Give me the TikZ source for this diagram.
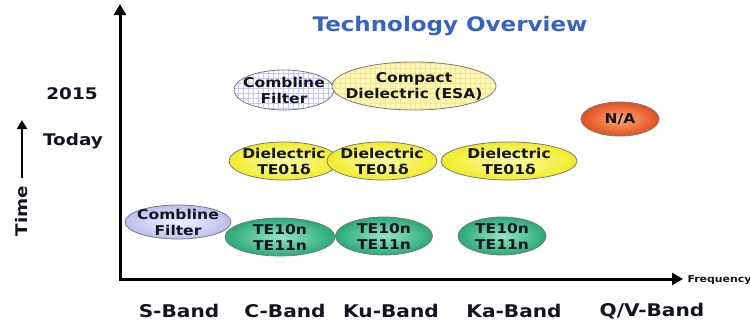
\documentclass[tikz,border=0pt]{standalone}
\usepackage{fontspec}
\setmainfont{DejaVu Sans}[FakeStretch=1.15]
\usetikzlibrary{shapes.geometric,arrows.meta}
\definecolor{txt}{HTML}{141420}
\definecolor{ttl}{HTML}{3563C4}
\definecolor{edge}{HTML}{7A7A7A}
\tikzset{
  oval/.style={ellipse, draw=edge, line width=0.8pt, inner xsep=-16pt, inner ysep=-6pt, align=center,
    font=\fontsize{13.5}{16}\selectfont\bfseries, text=txt},
  grid/.style={oval, fill=white, path picture={\draw[#1, line width=0.4pt, step=5pt]
    ([xshift=-1pt,yshift=-1pt]path picture bounding box.south west) grid (path picture bounding box.north east);}},
  diel/.style={oval, inner color={rgb,255:red,252;green,252;blue,170}, outer color={rgb,255:red,240;green,236;blue,40}},
  tem/.style={oval, inner color={rgb,255:red,150;green,228;blue,195}, outer color={rgb,255:red,40;green,170;blue,120}},
  band/.style={font=\fontsize{17.5}{19}\selectfont\bfseries, text=txt},
  side/.style={font=\fontsize{16}{17}\selectfont\bfseries, text=txt},
  axis/.style={line width=3pt, -{Triangle[length=11pt,width=12pt]}},
}
\begin{document}
\begin{tikzpicture}[x=1pt,y=-1pt]
\useasboundingbox (0,0) rectangle (750,325);
% title
\node[font=\fontsize{20}{22}\selectfont\bfseries, text=ttl] (title) at (450,26) {Technology Overview};
% axes
\coordinate (origin) at (120,279);
\coordinate (ytop) at (120,4);
\coordinate (xend) at (683,279);
\draw[axis] (origin) -- (ytop);
\draw[axis] ([xshift=-1.5pt]origin) -- (xend);
\node[anchor=west, font=\fontsize{9.5}{10}\selectfont\bfseries, text=txt] (freq) at (684,280) {Frequency};
% time axis labels
\node[side] (y2015) at (72,94) {2015};
\node[side] (today) at (73,141) {Today};
\node[side, rotate=90] (time) at (22,211) {Time};
\coordinate (tarrowtip) at (22,120);
\draw[line width=2.8pt, -{Triangle[length=9pt,width=10pt]}] (time.east) ++(0,-4) -- (tarrowtip);
% ovals
\node[grid=blue!22, minimum width=100pt, minimum height=40pt] (comb2) at (284,90) {Combline\\Filter};
\node[grid=yellow!60!orange!45, oval, fill={rgb,255:red,250;green,250;blue,190}, minimum width=164pt, minimum height=48pt] (compact) at (414,86) {Compact\\Dielectric (ESA)};
\node[oval, inner color={rgb,255:red,250;green,170;blue,120}, outer color={rgb,255:red,225;green,80;blue,30}, minimum width=78pt, minimum height=34pt] (na) at (620,119) {N/A};
\node[diel, minimum width=110pt, minimum height=38pt] (d1) at (284,161) {Dielectric\\TE01δ};
\node[diel, minimum width=110pt, minimum height=38pt] (d2) at (382,161) {Dielectric\\TE01δ};
\node[diel, minimum width=136pt, minimum height=38pt] (d3) at (509,161) {Dielectric\\TE01δ};
\node[oval, inner color={rgb,255:red,240;green,240;blue,255}, outer color={rgb,255:red,190;green,190;blue,238}, minimum width=106pt, minimum height=34pt] (comb1) at (178,222) {Combline\\Filter};
\node[tem, minimum width=110pt, minimum height=38pt] (t1) at (280,237) {TE10n\\TE11n};
\node[tem, minimum width=97pt, minimum height=38pt] (t2) at (384,236) {TE10n\\TE11n};
\node[tem, minimum width=88pt, minimum height=38pt] (t3) at (502,236) {TE10n\\TE11n};
% bands
\node[band] (sb) at (179,311) {S-Band};
\node[band] (cb) at (285,311) {C-Band};
\node[band] (kub) at (391,311) {Ku-Band};
\node[band] (kab) at (514,311) {Ka-Band};
\node[band] (qvb) at (652,311) {Q/V-Band};
\end{tikzpicture}
\end{document}
